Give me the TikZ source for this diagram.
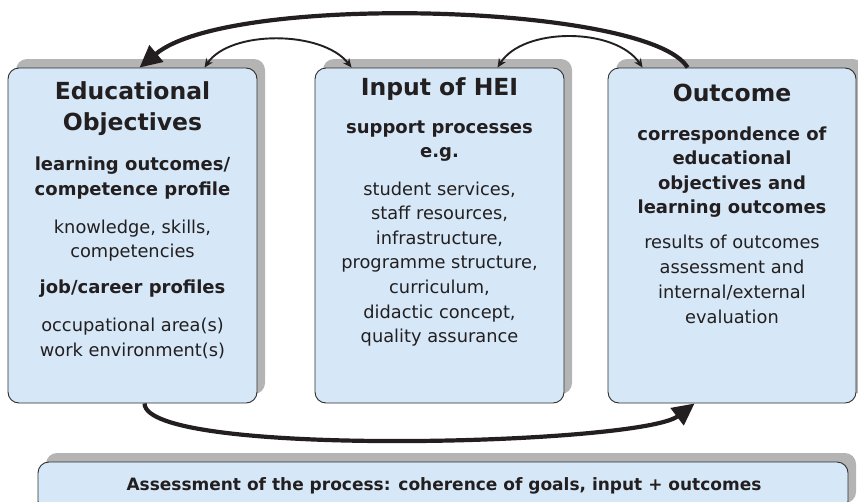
\documentclass[tikz,border=0pt]{standalone}
\usepackage{fontspec}
\setmainfont{DejaVu Sans}
\usetikzlibrary{arrows.meta,shadows}

\definecolor{boxfill}{RGB}{214,232,247}
\definecolor{boxshadow}{RGB}{180,180,180}
\definecolor{ink}{RGB}{35,31,32}
\definecolor{edge}{RGB}{45,45,45}

\tikzset{
  panel/.style={draw=edge, line width=0.9pt, fill=boxfill, rounded corners=11pt,
    inner sep=0pt,
    drop shadow={shadow xshift=8pt, shadow yshift=9pt, fill=boxshadow, opacity=1}},
  headline/.style={font=\fontsize{23.5}{29}\selectfont\bfseries, text=ink, anchor=base},
  subline/.style={font=\fontsize{18}{24}\selectfont\bfseries, text=ink, anchor=base},
  bodyline/.style={font=\fontsize{17.8}{24.5}\selectfont, text=ink, anchor=base},
  footline/.style={font=\fontsize{17}{22}\selectfont\bfseries, text=ink, anchor=base},
  bigarrow/.style={line width=4.2pt, draw=ink, -{Triangle[length=22pt,width=21pt]}},
  linkarrow/.style={line width=1.9pt, draw=ink,
    {Stealth[length=9pt,width=8pt]}-{Stealth[length=9pt,width=8pt]}},
}

\begin{document}
\begin{tikzpicture}[x=1pt,y=-1pt]
\useasboundingbox (0,0) rectangle (858,501);

% the three stages and the assessment bar
\node[panel, minimum width=249pt, minimum height=335pt] (eo) at (132.5,235.5) {};
\node[panel, minimum width=249pt, minimum height=335pt] (ip) at (439.5,235.5) {};
\node[panel, minimum width=248pt, minimum height=335pt] (oc) at (732,235.5) {};
\node[panel, minimum width=810pt, minimum height=50pt] (as) at (443,487) {};

% Educational Objectives
\node[headline] (eo-h1) at (132.5,99) {Educational};
\node[headline] (eo-h2) at (132.5,130) {Objectives};
\node[subline] (eo-s1) at (132.5,170) {learning outcomes/};
\node[subline] (eo-s2) at (132.5,195) {competence profile};
\node[bodyline] (eo-b1) at (132.5,233) {knowledge, skills,};
\node[bodyline] (eo-b2) at (132.5,257) {competencies};
\node[subline] (eo-s3) at (132.5,293) {job/career profiles};
\node[bodyline] (eo-b3) at (132.5,331) {occupational area(s)};
\node[bodyline] (eo-b4) at (132.5,356) {work environment(s)};

% Input of HEI
\node[headline] (ip-h1) at (439.5,95) {Input of HEI};
\node[subline] (ip-s1) at (439.5,133) {support processes};
\node[subline] (ip-s2) at (439.5,157) {e.g.};
\node[bodyline] (ip-b1) at (439.5,195) {student services,};
\node[bodyline] (ip-b2) at (439.5,219) {staff resources,};
\node[bodyline] (ip-b3) at (439.5,244) {infrastructure,};
\node[bodyline] (ip-b4) at (439.5,268) {programme structure,};
\node[bodyline] (ip-b5) at (439.5,293) {curriculum,};
\node[bodyline] (ip-b6) at (439.5,318) {didactic concept,};
\node[bodyline] (ip-b7) at (439.5,342) {quality assurance};

% Outcome
\node[headline] (oc-h1) at (732,101) {Outcome};
\node[subline] (oc-s1) at (732,140) {correspondence of};
\node[subline] (oc-s2) at (732,164.5) {educational};
\node[subline] (oc-s3) at (732,189) {objectives and};
\node[subline] (oc-s4) at (732,213.5) {learning outcomes};
\node[bodyline] (oc-b1) at (732,248) {results of outcomes};
\node[bodyline] (oc-b2) at (732,273) {assessment and};
\node[bodyline] (oc-b3) at (732,298) {internal/external};
\node[bodyline] (oc-b4) at (732,323) {evaluation};

% assessment bar
\node[footline] (as-t) at (444,490) {Assessment of the process: coherence of goals, input + outcomes};

% feedback loops
\draw[bigarrow] ([xshift=80pt]oc.north west)
  .. controls (650,4) and (230,-8) .. ([xshift=132pt]eo.north west);
\draw[bigarrow] ([xshift=137pt]eo.south west)
  .. controls (145,458) and (640,445) .. ([xshift=87pt]oc.south west);

% mutual links between neighbouring stages
\draw[linkarrow] ([xshift=197pt]eo.north west)
  .. controls (230,30) and (322,30) .. ([xshift=37pt]ip.north west);
\draw[linkarrow] ([xshift=183pt]ip.north west)
  .. controls (523,27) and (615,27) .. ([xshift=35pt]oc.north west);
\end{tikzpicture}
\end{document}
